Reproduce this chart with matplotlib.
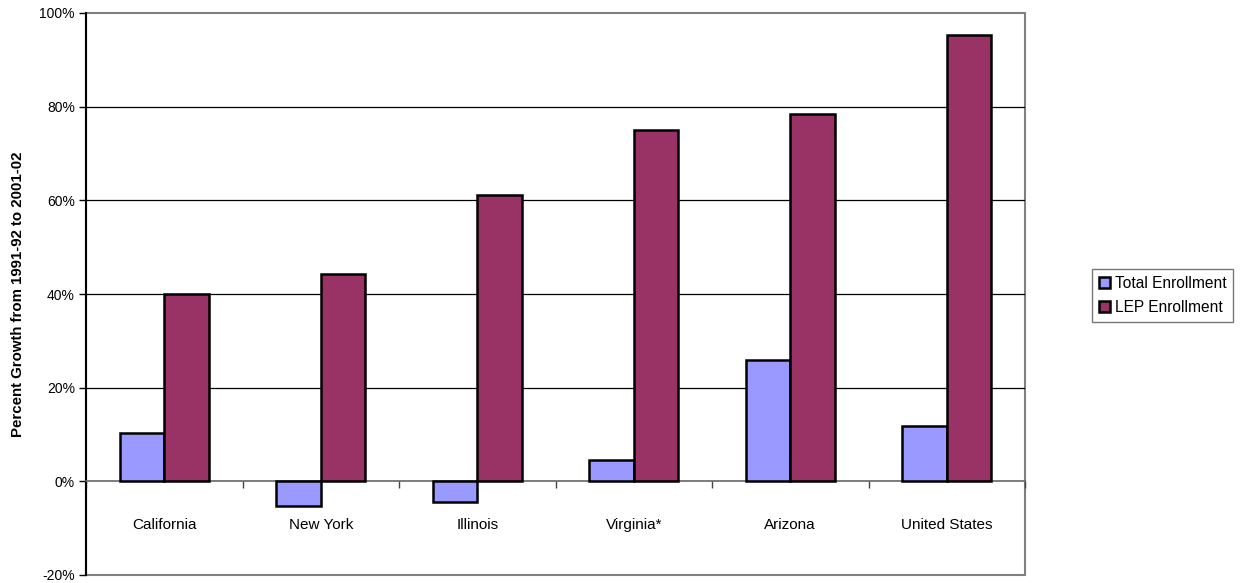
import matplotlib
matplotlib.use("Agg")
import matplotlib.pyplot as plt
from matplotlib.patches import Rectangle
from matplotlib.ticker import FixedLocator, FuncFormatter
import numpy as np

plt.rcParams['font.family'] = ['Liberation Sans', 'DejaVu Sans']

categories = ["California", "New York", "Illinois", "Virginia*", "Arizona", "United States"]
total_enrollment = [10.4, -5.3, -4.5, 4.6, 26.0, 11.9]
lep_enrollment = [40.1, 44.2, 61.2, 75.1, 78.4, 95.4]
series_names = ["Total Enrollment", "LEP Enrollment"]
y_ticks = [-20, 0, 20, 40, 60, 80, 100]

fig = plt.figure(figsize=(12.4, 5.83), dpi=100)
ax = fig.add_axes([86/1240, 1 - 575/583, (1025-86)/1240, (575-13)/583])

x = np.arange(len(categories))
w = 1/3.5
ax.bar(x - w/2, total_enrollment, w, color="#9999FF", edgecolor="black", linewidth=1.8, label=series_names[0], zorder=3)
ax.bar(x + w/2, lep_enrollment, w, color="#993366", edgecolor="black", linewidth=1.8, label=series_names[1], zorder=3)

ax.set_xlim(-0.5, len(categories) - 0.5)
ax.set_ylim(-20, 100)

ax.yaxis.set_major_locator(FixedLocator(y_ticks))
ax.yaxis.set_major_formatter(FuncFormatter(lambda v, p: f"{int(v)}%"))
ax.tick_params(axis='y', direction='out', length=5, width=1, labelsize=10, pad=3, color='black')
for t in y_ticks[2:-1]:
    ax.axhline(t, color='black', linewidth=0.9, zorder=1)

ax.set_xticks(x)
ax.set_xticklabels(categories)
ax.tick_params(axis='x', which='major', length=0, labelsize=11, pad=26.5)
ax.set_xticks(np.arange(len(categories) + 1) - 0.5, minor=True)
ax.tick_params(axis='x', which='minor', length=5, width=1, direction='out', color='#444444')

for s in ['top', 'right']:
    ax.spines[s].set_visible(False)
ax.spines['bottom'].set_position(('data', 0))
ax.spines['bottom'].set_color('#666666')
ax.spines['bottom'].set_linewidth(1.2)
ax.spines['left'].set_color('black')
ax.spines['left'].set_linewidth(1.5)
ax.add_patch(Rectangle((0, 0), 1, 1, transform=ax.transAxes, fill=False,
                       edgecolor='#808080', linewidth=1.5, zorder=0, clip_on=False))

ax.set_ylabel("Percent Growth from 1991-92 to 2001-02", fontsize=10.8, fontweight='bold')
ax.yaxis.set_label_coords((25 - 86) / 939, 0.5)

leg = fig.legend(loc='upper left', bbox_to_anchor=(1092/1240, 1 - 269/583), frameon=True,
                 fontsize=11.2, fancybox=False, handlelength=0.7, handleheight=0.7,
                 handletextpad=0.3, borderpad=0.45, labelspacing=0.6, borderaxespad=0)
leg.get_frame().set_edgecolor('#555555')
leg.get_frame().set_linewidth(1.0)

fig.savefig("out.png", dpi=100)
